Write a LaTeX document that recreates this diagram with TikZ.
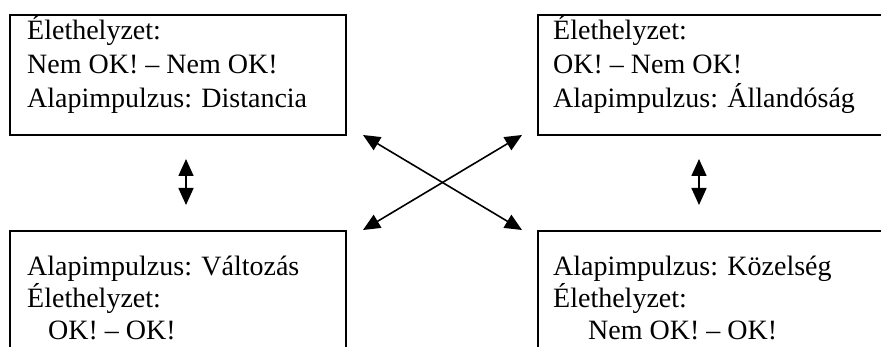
\documentclass[tikz,border=0pt]{standalone}
\usepackage{fontspec}
\setmainfont{Liberation Serif}
\usetikzlibrary{arrows.meta}
\begin{document}
\begin{tikzpicture}[x=1pt,y=-1pt,
  box/.style={draw, line width=1.6pt, inner sep=0pt, outer sep=0pt, anchor=north west},
  txt/.style={anchor=base west, inner sep=0pt, font=\fontsize{28}{33}\selectfont},
  biarrow/.style={line width=1.6pt, {Triangle[length=17pt,width=15pt]}-{Triangle[length=17pt,width=15pt]}}]
\clip (0,0) rectangle (881,347);
% boxes
\node[box, minimum width=336pt, minimum height=120pt] (tl) at (10,15) {};
\node[box, minimum width=360pt, minimum height=120pt] (tr) at (538,15) {};
\node[box, minimum width=336pt, minimum height=140pt] (bl) at (10,231) {};
\node[box, minimum width=360pt, minimum height=140pt] (br) at (538,231) {};
% texts
\node[txt] (tl1) at (27,40) {Élethelyzet:};
\node[txt] (tl2) at (27,74) {Nem OK! – Nem OK!};
\node[txt] (tl3) at (27,108) {Alapimpulzus: Distancia};
\node[txt] (tr1) at (553,40) {Élethelyzet:};
\node[txt] (tr2) at (553,74) {OK! – Nem OK!};
\node[txt] (tr3) at (553,108) {Alapimpulzus: Állandóság};
\node[txt] (bl1) at (27,276) {Alapimpulzus: Változás};
\node[txt] (bl2) at (27,308) {Élethelyzet:};
\node[txt] (bl3) at (48,340) {OK! – OK!};
\node[txt] (br1) at (553,276) {Alapimpulzus: Közelség};
\node[txt] (br2) at (553,308) {Élethelyzet:};
\node[txt] (br3) at (588,340) {Nem OK! – OK!};
% arrows
\coordinate (la) at (186,159);
\coordinate (lb) at (186,205);
\coordinate (ra) at (699,159);
\coordinate (rb) at (699,205);
\coordinate (c1) at (363,135);
\coordinate (c2) at (522,230);
\coordinate (c3) at (522,135);
\coordinate (c4) at (363,230);
\draw[biarrow] (la) -- (lb);
\draw[biarrow] (ra) -- (rb);
\draw[biarrow] (c1) -- (c2);
\draw[biarrow] (c3) -- (c4);
\end{tikzpicture}
\end{document}
